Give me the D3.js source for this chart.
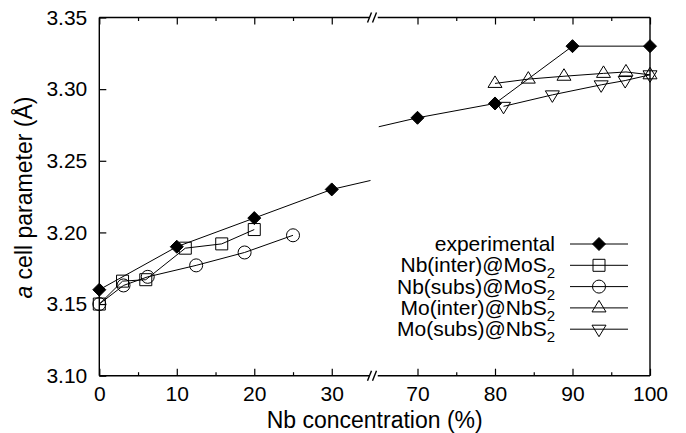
<!DOCTYPE html>
<html>
<head>
<meta charset="utf-8">
<script src="https://cdn.jsdelivr.net/npm/d3@7/dist/d3.min.js"></script>
<style>
  html, body { margin: 0; padding: 0; background: #fff; }
  svg { display: block; font-family: "Liberation Sans", Arial, Helvetica, sans-serif; }
</style>
</head>
<body>
<svg id="chart" width="686" height="433"></svg>
<script>
// ---------------- data ----------------
const xTicksMajor = [0, 10, 20, 30, 70, 80, 90, 100];
const xTicksMinor = [5, 15, 25, 75, 85, 95];
const yTicks = [3.10, 3.15, 3.20, 3.25, 3.30, 3.35];

const experimentalX = [0, 10, 20, 30, 70, 80, 90, 100];
const experimentalY = [3.160, 3.190, 3.210, 3.230, 3.280, 3.290, 3.330, 3.330];

const nbInterX = [0, 3.0, 6.0, 11.1, 15.8, 20.0];
const nbInterY = [3.150, 3.166, 3.167, 3.189, 3.192, 3.202];

const nbSubsX = [0, 3.125, 6.25, 12.5, 18.75, 25];
const nbSubsY = [3.150, 3.163, 3.169, 3.177, 3.186, 3.198];

const moInterX = [80, 84.3, 88.9, 94.0, 96.9, 100];
const moInterY = [3.304, 3.307, 3.309, 3.311, 3.312, 3.310];

const moSubsX = [81.1, 87.4, 93.7, 96.8, 100];
const moSubsY = [3.288, 3.296, 3.303, 3.306, 3.310];

const seriesNames = ["experimental", "Nb(inter)@MoS", "Nb(subs)@MoS", "Mo(inter)@NbS", "Mo(subs)@NbS"];
const seriesSubs = ["", "2", "2", "2", "2"];
const breakLo = 35, breakHi = 65;

// ---------------- layout ----------------
const svg = d3.select("#chart");
const L = 99.3, R = 650, T = 17.5, B = 375.7;
const x = d3.scaleLinear().domain([0, breakLo, breakHi, 100]).range([L, 370.5, 378.75, R]);
const y = d3.scaleLinear().domain([3.10, 3.35]).range([B, T]);

const series = [
  { name: seriesNames[0], sub: seriesSubs[0], xs: experimentalX, ys: experimentalY, marker: "diamond" },
  { name: seriesNames[1], sub: seriesSubs[1], xs: nbInterX, ys: nbInterY, marker: "square" },
  { name: seriesNames[2], sub: seriesSubs[2], xs: nbSubsX, ys: nbSubsY, marker: "circle" },
  { name: seriesNames[3], sub: seriesSubs[3], xs: moInterX, ys: moInterY, marker: "up" },
  { name: seriesNames[4], sub: seriesSubs[4], xs: moSubsX, ys: moSubsY, marker: "down" }
];

const markerPath = {
  diamond: "M0,-6.5L6.5,0L0,6.5L-6.5,0Z",
  square: "M-6,-6H6V6H-6Z",
  circle: d3.arc()({ innerRadius: 0, outerRadius: 6.5, startAngle: 0, endAngle: 2 * Math.PI }),
  up: "M0,-7.5L7,4L-7,4Z",
  down: "M0,7.5L7,-4L-7,-4Z"
};

// split lines at the axis break (linear in data space)
function withBreak(xs, ys) {
  const pts = [];
  for (let i = 0; i < xs.length; i++) {
    if (i > 0 && xs[i - 1] <= breakLo && xs[i] >= breakHi) {
      const x0 = xs[i - 1], y0 = ys[i - 1], x1 = xs[i], y1 = ys[i];
      const f = t => y0 + (y1 - y0) * (t - x0) / (x1 - x0);
      pts.push({ x: breakLo, y: f(breakLo), def: true });
      pts.push({ x: NaN, y: NaN, def: false });
      pts.push({ x: breakHi, y: f(breakHi), def: true });
    }
    pts.push({ x: xs[i], y: ys[i], def: true });
  }
  return pts;
}

const line = d3.line().defined(d => d.def).x(d => x(d.x)).y(d => y(d.y));

// ---------------- axes ----------------
const tickFont = 21;
const axBottom = svg.append("g").attr("transform", `translate(0,${B})`);
axBottom.call(d3.axisBottom(x).tickValues(xTicksMajor).tickSize(-7).tickPadding(10).tickFormat(d3.format("d")));
axBottom.call(g => g.select(".domain").remove());
axBottom.selectAll("text").attr("font-size", tickFont).attr("font-family", "Liberation Sans, Arial, sans-serif").attr("fill", "#000");
axBottom.selectAll("line").attr("stroke", "#000").attr("stroke-width", 1.2);
const axBottomMinor = svg.append("g").attr("transform", `translate(0,${B})`);
axBottomMinor.call(d3.axisBottom(x).tickValues(xTicksMinor).tickSize(-3.5).tickFormat(""));
axBottomMinor.call(g => g.select(".domain").remove());
axBottomMinor.selectAll("line").attr("stroke", "#000").attr("stroke-width", 1.2);

const axTop = svg.append("g").attr("transform", `translate(0,${T})`);
axTop.call(d3.axisTop(x).tickValues(xTicksMajor).tickSize(-7).tickFormat(""));
axTop.call(g => g.select(".domain").remove());
axTop.selectAll("line").attr("stroke", "#000").attr("stroke-width", 1.2);
const axTopMinor = svg.append("g").attr("transform", `translate(0,${T})`);
axTopMinor.call(d3.axisTop(x).tickValues(xTicksMinor).tickSize(-3.5).tickFormat(""));
axTopMinor.call(g => g.select(".domain").remove());
axTopMinor.selectAll("line").attr("stroke", "#000").attr("stroke-width", 1.2);

const axLeft = svg.append("g").attr("transform", `translate(${L},0)`);
axLeft.call(d3.axisLeft(y).tickValues(yTicks).tickSize(-7).tickPadding(12).tickFormat(d3.format(".2f")));
axLeft.call(g => g.select(".domain").remove());
axLeft.selectAll("text").attr("font-size", tickFont).attr("font-family", "Liberation Sans, Arial, sans-serif").attr("fill", "#000");
axLeft.selectAll("line").attr("stroke", "#000").attr("stroke-width", 1.2);

// frame with break
const frame = svg.append("g").attr("stroke", "#000").attr("stroke-width", 1.4).attr("fill", "none");
frame.append("line").attr("x1", L).attr("x2", L).attr("y1", T).attr("y2", B);
frame.append("line").attr("x1", R).attr("x2", R).attr("y1", T).attr("y2", B);
const xb1 = x(breakLo), xb2 = x(breakHi);
[T, B].forEach(yy => {
  frame.append("line").attr("x1", L).attr("x2", xb1 - 1).attr("y1", yy).attr("y2", yy);
  frame.append("line").attr("x1", xb2 - 1).attr("x2", R).attr("y1", yy).attr("y2", yy);
  [xb1 - 1, xb1 + 4].forEach(cx => {
    frame.append("line").attr("x1", cx - 2).attr("y1", yy + 5).attr("x2", cx + 2).attr("y2", yy - 5);
  });
});

// ---------------- data marks ----------------
const plot = svg.append("g");
series.forEach(s => {
  plot.append("path")
    .attr("d", line(withBreak(s.xs, s.ys)))
    .attr("fill", "none").attr("stroke", "#000").attr("stroke-width", 1);
});
series.forEach(s => {
  plot.append("g").selectAll("path")
    .data(s.xs.map((v, i) => ({ x: v, y: s.ys[i] })))
    .join("path")
    .attr("transform", d => `translate(${x(d.x)},${y(d.y)})`)
    .attr("d", markerPath[s.marker])
    .attr("fill", s.marker === "diamond" ? "#000" : "none")
    .attr("stroke", "#000").attr("stroke-width", 1);
});

// ---------------- legend ----------------
const legend = svg.append("g");
const legY0 = 244, legDy = 21.3;
series.forEach((s, i) => {
  const ly = legY0 + i * legDy;
  legend.append("line").attr("x1", 570).attr("x2", 628).attr("y1", ly).attr("y2", ly)
    .attr("stroke", "#000").attr("stroke-width", 1);
  legend.append("path").attr("transform", `translate(599,${ly})`).attr("d", markerPath[s.marker])
    .attr("fill", s.marker === "diamond" ? "#000" : "none").attr("stroke", "#000").attr("stroke-width", 1);
  const t = legend.append("text").attr("x", 555).attr("y", ly + 7).attr("text-anchor", "end")
    .attr("font-size", 21).attr("fill", "#000");
  t.append("tspan").text(s.name);
  if (s.sub) t.append("tspan").attr("font-size", 15).attr("dy", 6).text(s.sub);
});

// ---------------- axis titles ----------------
svg.append("text").attr("x", (L + R) / 2).attr("y", 428).attr("text-anchor", "middle")
  .attr("font-size", 23).attr("fill", "#000").text("Nb concentration (%)");

const yl = svg.append("text").attr("transform", `translate(32,${(T + B) / 2 + 1}) rotate(-90)`)
  .attr("text-anchor", "middle").attr("font-size", 23).attr("fill", "#000");
yl.append("tspan").attr("font-style", "italic").text("a");
yl.append("tspan").text(" cell parameter (Å)");
</script>
</body>
</html>
